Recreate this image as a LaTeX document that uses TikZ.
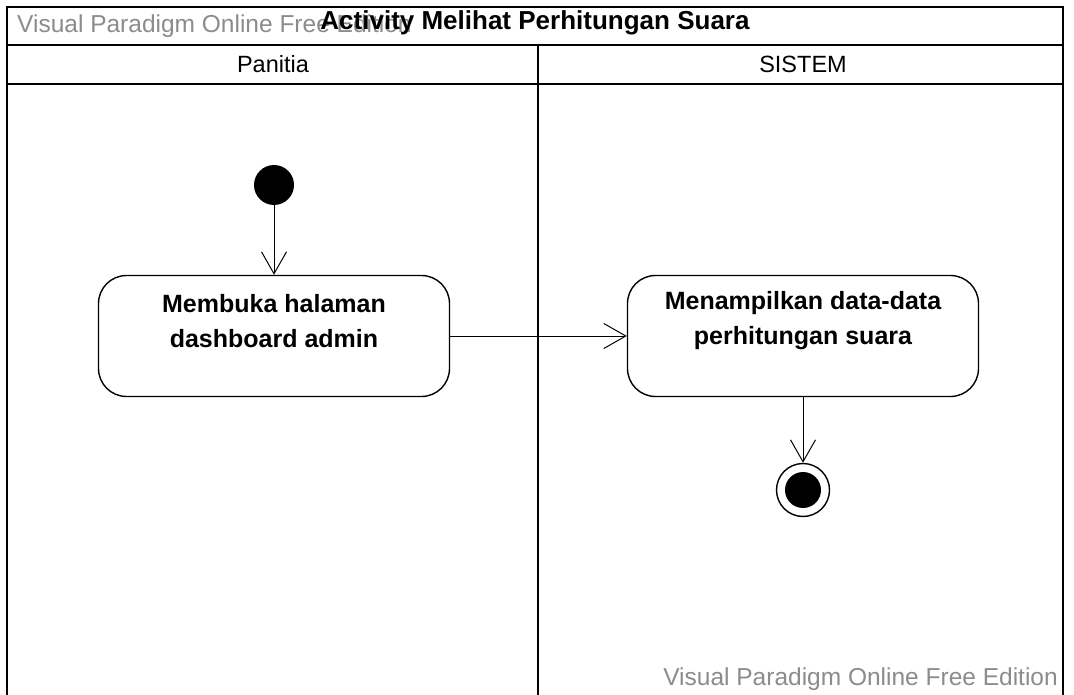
\documentclass[tikz,border=0pt]{standalone}
\usepackage{fontspec}
\setmainfont{Liberation Sans}
\usetikzlibrary{arrows.meta}
\definecolor{wmgray}{RGB}{140,140,140}
\begin{document}
\begin{tikzpicture}[x=1pt,y=-1pt,
  frame/.style={draw=black,line width=1.3pt},
  action/.style={draw=black,line width=1.4pt,rounded corners=28pt,
    minimum width=351pt,minimum height=121pt},
  actiontext/.style={align=center,inner sep=0pt,
    font=\fontsize{25}{35}\selectfont\bfseries},
  flow/.style={draw=black,line width=1pt,-{Straight Barb[length=22pt,width=25pt,line width=1pt]}},
  watermark/.style={text=wmgray,font=\fontsize{24.5}{28}\selectfont,inner sep=0pt}]
\useasboundingbox (0,0) rectangle (1074,695);
\fill[white] (0,0) rectangle (1074,695);
% swimlane frame
\draw[frame] (7,700) -- (7,7) -- (1063,7) -- (1063,700);
\draw[frame] (7,45) -- (1063,45);
\draw[frame] (7,84) -- (1063,84);
\draw[frame] (538,45) -- (538,700);
% watermarks
\node[watermark,anchor=west] (wm1) at (17,26) {Visual Paradigm Online Free Edition};
\node[watermark,anchor=east] (wm2) at (1058,679) {Visual Paradigm Online Free Edition};
% title and lane headers
\node[font=\fontsize{26}{28}\selectfont\bfseries,inner sep=1pt] (title) at (535,23) {Activity Melihat Perhitungan Suara};
\node[font=\fontsize{23.5}{26}\selectfont] (lane1) at (273,64) {Panitia};
\node[font=\fontsize{23.5}{26}\selectfont] (lane2) at (803,64) {SISTEM};
% activity nodes
\node[circle,fill=black,minimum size=40pt,inner sep=0pt] (start) at (274,185) {};
\node[action] (a1) at (274,336) {};
\node[actiontext] (t1) at (274,321) {Membuka halaman\\dashboard admin};
\node[action] (a2) at (803,336) {};
\node[actiontext] (t2) at (803,321) {Menampilkan data-data\\perhitungan suara};
\node[circle,draw=black,line width=1.4pt,minimum size=53pt,inner sep=0pt] (end) at (803,490) {};
\node[circle,fill=black,minimum size=36pt,inner sep=0pt] (endin) at (end.center) {};
% control flows
\draw[flow] (start) -- (a1);
\draw[flow] (a1) -- (a2);
\draw[flow] (a2) -- (end);
\end{tikzpicture}
\end{document}
